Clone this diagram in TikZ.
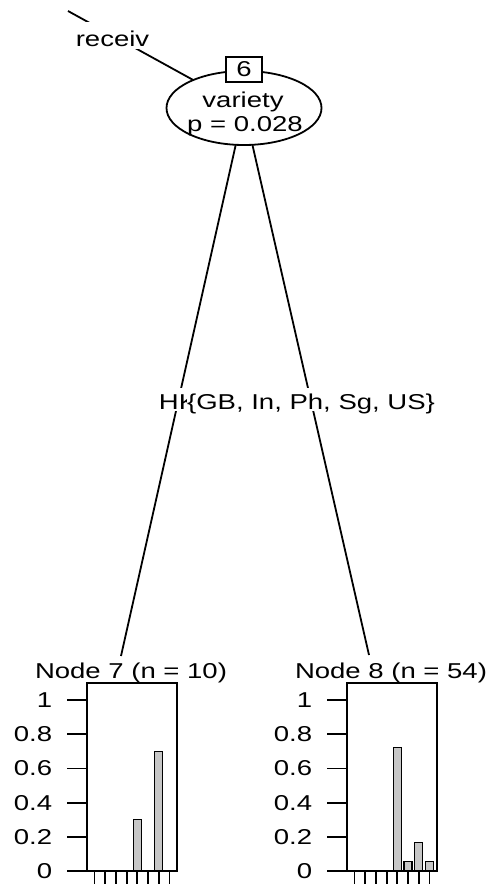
\documentclass[tikz,border=0pt]{standalone}
\usepackage{fontspec}
\setmainfont{Liberation Sans}[FakeStretch=1.28]
\usetikzlibrary{shapes.geometric}
\begin{document}
\begin{tikzpicture}[x=1pt,y=-1pt,line width=1.8pt,
  txt/.style={font=\fontsize{21.5}{24}\selectfont,inner sep=0pt},
  edgelab/.style={txt,fill=white,text height=21pt,text depth=2pt,anchor=base},
  panelframe/.style={line width=1.8pt},
  bar/.style={draw,fill=gray!45,line width=1.3pt},
  ticklab/.style={txt,anchor=east}]
\useasboundingbox (0,0) rectangle (488,886);

% edges of the tree
\coordinate (parent) at (68,11);
\coordinate (c6) at (244,108);
\coordinate (e7) at (121,656);
\coordinate (e8) at (369,655);
\draw (parent) -- (c6);
\draw (c6) -- (e7);
\draw (c6) -- (e8);

% edge labels
\node[edgelab,text height=24pt,text depth=3pt] (lrec) at (112.5,46) {receiv};
\node[edgelab] (lhk) at (178,409) {HK};
\node[edgelab] (lrest) at (311,409) {\{GB, In, Ph, Sg, US\}};

% inner node 6
\node[draw,ellipse,fill=white,minimum width=155pt,minimum height=74pt,inner sep=0pt] (n6) at (c6) {};
\node[txt,anchor=base] (var) at (243,107) {variety};
\node[txt,anchor=base] (pval) at (245,131) {p = 0.028};
\node[draw,fill=white,minimum width=36pt,minimum height=25pt,inner sep=0pt,font=\fontsize{21.5}{24}\selectfont] (id6) at (244,69.5) {6};

% terminal node titles
\node[txt,anchor=base] (t7) at (131,678) {Node 7 (n = 10)};
\node[txt,anchor=base] (t8) at (391,678) {Node 8 (n = 54)};

% bar chart panels
\foreach \L/\T in {87/53,347/313}{
  \draw[panelframe] (\L,683) rectangle (\L+90,871);
  \foreach \v/\t in {0/0,0.2/0.2,0.4/0.4,0.6/0.6,0.8/0.8,1/1}{
    \draw (\L-20,871-171*\v) -- (\L,871-171*\v);
    \node[ticklab] at (\T,871-171*\v) {\t};
  }
  \foreach \i in {0,...,7}
    \draw (\L+7.5+10.714*\i,871) -- (\L+7.5+10.714*\i,884);
}

% Node 7 bars
\foreach \i/\h in {4/0.3,6/0.7}
  \draw[bar] (87+3.5+10.714*\i,871) rectangle (87+11.5+10.714*\i,871-171*\h);
% Node 8 bars
\foreach \i/\h in {4/0.7222,5/0.0556,6/0.1667,7/0.0556}
  \draw[bar] (347+3.5+10.714*\i,871) rectangle (347+11.5+10.714*\i,871-171*\h);
\end{tikzpicture}
\end{document}
